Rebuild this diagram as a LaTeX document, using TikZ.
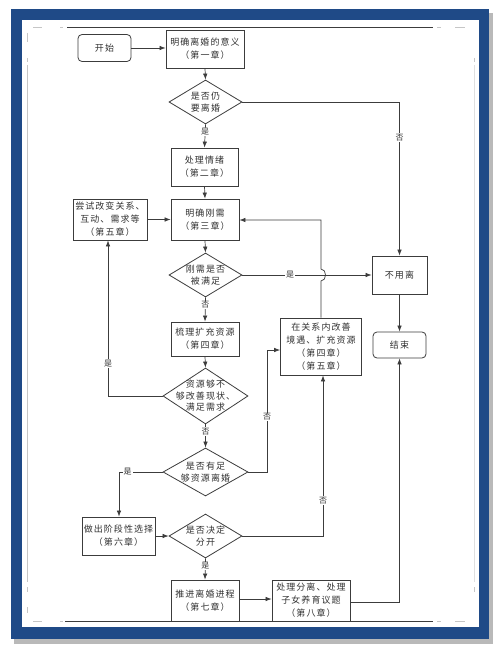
\documentclass[tikz,border=0pt]{standalone}
\usepackage{fontspec}
\newfontfamily\cjk[LetterSpace=12]{Noto Sans CJK SC}
\usetikzlibrary{arrows.meta,shapes.geometric}
\definecolor{frameblue}{RGB}{31,74,135}
\definecolor{shadowgray}{RGB}{185,185,185}
\definecolor{ln}{RGB}{60,60,60}
\definecolor{txt}{RGB}{50,50,50}
\begin{document}
\begin{tikzpicture}[x=1pt,y=-1pt,
  box/.style={draw=ln, line width=0.8pt, inner sep=0pt, align=center,
    font=\cjk\fontsize{9}{13}\selectfont, text=txt},
  rbox/.style={box, rounded corners=4pt},
  dia/.style={draw=ln, line width=0.8pt, diamond, inner sep=0pt},
  dtext/.style={align=center, inner sep=0pt, font=\cjk\fontsize{9}{12}\selectfont, text=txt},
  lab/.style={fill=white, inner sep=0.8pt, font=\cjk\fontsize{8}{9}\selectfont, text=txt},
  conn/.style={draw=ln, line width=0.7pt, -{Latex[length=6pt,width=4.5pt]}},
  crop/.style={draw=ln, line width=0.8pt},
  faint/.style={draw=gray!45, line width=0.6pt}]
% ---- page and frame ----
\useasboundingbox (0,0) rectangle (500,652);
\fill[white] (0,0) rectangle (500,652);
\fill[shadowgray] (14,13) rectangle (493,644);
\fill[frameblue] (11,9) rectangle (489,639);
\fill[white] (22,20) rectangle (479,627);
% crop lines
\draw[crop] (67,27) -- (433,27);
\draw[crop] (65,621) -- (433,621);
\draw[faint] (33,27) -- (42,27); \draw[faint] (60,27) -- (63,27);
\draw[faint] (437,27) -- (441,27); \draw[faint] (455,27) -- (465,27);
\draw[faint] (33,621) -- (42,621); \draw[faint] (60,621) -- (63,621);
\draw[faint] (437,621) -- (441,621); \draw[faint] (455,621) -- (465,621);
\draw[faint] (27,65) -- (27,582);
\draw[faint] (27,33) -- (27,42); \draw[faint] (27,58) -- (27,62);
\draw[faint] (27,587) -- (27,592); \draw[faint] (27,607) -- (27,613);
\draw[draw=gray!25, line width=0.5pt] (474,65) -- (474,582);
\draw[faint] (474,58) -- (474,62); \draw[faint] (474,587) -- (474,592);
% ---- nodes ----
\node[rbox, minimum width=53, minimum height=27] (start) at (104.5,48) {开始};
\node[box, minimum width=78, minimum height=38] (b1) at (205,49) {明确离婚的意义\\（第一章）};
\node[dia, minimum width=73, minimum height=44] (d1) at (205.5,102) {};
\node[dtext] at (d1) {是否仍\\要离婚};
\node[box, minimum width=67, minimum height=38] (b2) at (204.5,167) {处理情绪\\（第二章）};
\node[box, minimum width=68, minimum height=41] (b3) at (205,219.5) {明确刚需\\（第三章）};
\node[box, minimum width=74, minimum height=41] (b5) at (110,219.5) {尝试改变关系、\\互动、需求等\\（第五章）};
\node[dia, minimum width=73, minimum height=44] (d2) at (205.5,275) {};
\node[dtext] at (d2) {刚需是否\\被满足};
\node[box, minimum width=55, minimum height=38] (nouse) at (399.5,275) {不用离};
\node[rbox, minimum width=53, minimum height=26] (end) at (399.5,345) {结束};
\node[box, minimum width=68, minimum height=34] (b4) at (205,339) {梳理扩充资源\\（第四章）};
\node[box, minimum width=81, minimum height=57] (brel) at (321,346.5) {在关系内改善\\境遇、扩充资源\\（第四章）\\（第五章）};
\node[dia, minimum width=85, minimum height=56] (d3) at (205.5,396) {};
\node[dtext, font=\cjk\fontsize{9}{11.5}\selectfont] at (d3) {资源够不\\够改善现状、\\满足需求};
\node[dia, minimum width=85, minimum height=48] (d4) at (205.5,472) {};
\node[dtext, font=\cjk\fontsize{9}{11.5}\selectfont] at (d4) {是否有足\\够资源离婚};
\node[box, minimum width=73, minimum height=38] (b6) at (118.5,536) {做出阶段性选择\\（第六章）};
\node[dia, minimum width=73, minimum height=44] (d5) at (205.5,536) {};
\node[dtext] at (d5) {是否决定\\分开};
\node[box, minimum width=68, minimum height=41] (b7) at (205,600.5) {推进离婚进程\\（第七章）};
\node[box, minimum width=78, minimum height=41] (b8) at (311,600.5) {处理分离、处理\\子女养育议题\\（第八章）};
% ---- helper coordinates ----
\coordinate (c4) at (399.5,102);
\coordinate (hopB) at (321,281);
\coordinate (hopT) at (321,269);
\coordinate (c21) at (321,220);
\coordinate (c11) at (108,396);
\coordinate (c13) at (267,472);
\coordinate (c13b) at (267,350);
\coordinate (c14) at (119,472);
\coordinate (c16) at (323,536);
\coordinate (c19) at (399.5,602);
% ---- connectors ----
\draw[conn] (start.east) -- (start.east -| b1.west);
\draw[conn] (b1.south) -- (d1.north);
\draw[conn] (d1.south) -- node[lab,pos=0.33]{是} (b2.north);
\draw[conn] (d1.east) -- (c4) -- node[lab,pos=0.23]{否} (nouse.north);
\draw[conn] (b2.south) -- (b3.north);
\draw[conn] (b5.east) -- (b3.west);
\draw[conn] (b3.south) -- (d2.north);
\draw[conn] (d2.east) -- node[lab,pos=0.37]{是} (nouse.west);
\draw[conn] (d2.south) -- node[lab,pos=0.32]{否} (b4.north);
\draw[conn] (b4.south) -- (d3.north);
\draw[conn] (d3.west) -- (c11) -- node[lab,pos=0.21]{是} (c11 |- b5.south);
\draw[conn] (d3.south) -- node[lab,pos=0.3]{否} (d4.north);
\draw[conn] (d4.east) -- (c13) -- node[lab,pos=0.45]{否} (c13b) -- (brel.west |- c13b);
\draw[conn] (d4.west) -- node[lab,pos=0.8]{是} (c14) -- (c14 |- b6.north);
\draw[conn] (b6.east) -- (d5.west);
\draw[conn] (d5.east) -- (c16) -- node[lab,pos=0.22]{否} (c16 |- brel.south);
\draw[conn] (d5.south) -- node[lab,pos=0.36]{是} (b7.north);
\draw[conn] (b7.east |- 0,599) -- (b8.west |- 0,599);
\draw[conn] (b8.east |- c19) -- (c19) -- (c19 |- end.south);
\draw[conn] (nouse.south) -- (end.north);
\draw[conn] (brel.north) -- (hopB) .. controls +(6,0) and +(6,0) .. (hopT) -- (c21) -- (b3.east |- c21);
\end{tikzpicture}
\end{document}
